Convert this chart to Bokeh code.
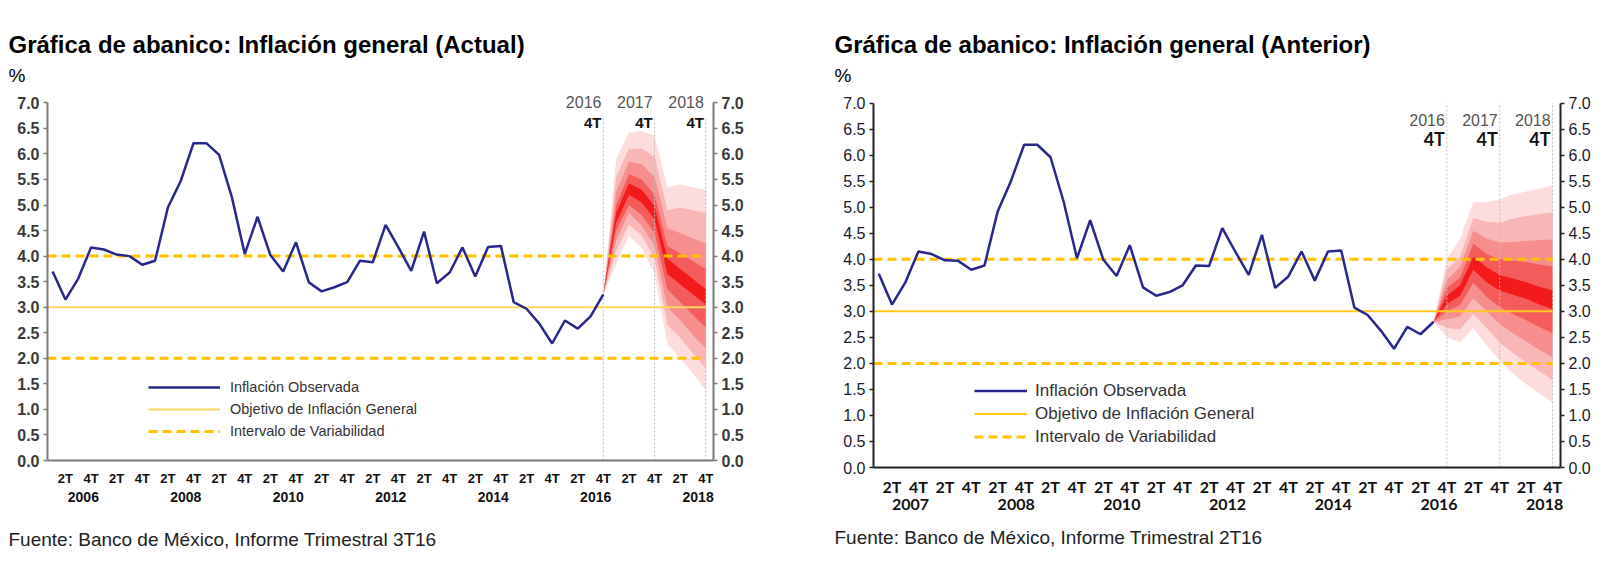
import numpy as np
from bokeh.plotting import figure
from bokeh.layouts import row
from bokeh.models import (LinearAxis, FixedTicker, PrintfTickFormatter, Label,
                          Legend, LegendItem, Range1d, Title)
from bokeh.embed import file_html
from bokeh.resources import INLINE

# ---------------- data ----------------
# quarter index 0 = 1T2006 ... 51 = 4T2018
obs_actual = [3.70, 3.15, 3.56, 4.17, 4.13, 4.03, 4.00, 3.83,
              3.91, 4.95, 5.47, 6.21, 6.21, 5.98, 5.15, 4.04,
              4.77, 4.02, 3.70, 4.27, 3.49, 3.31, 3.39, 3.49,
              3.91, 3.88, 4.61, 4.17, 3.71, 4.48, 3.47, 3.68,
              4.17, 3.60, 4.18, 4.20, 3.10, 2.97, 2.68, 2.29,
              2.74, 2.58, 2.82, 3.25]
obs_anterior = [3.72, 3.13, 3.55, 4.15, 4.10, 3.98, 3.97, 3.80,
                3.88, 4.92, 5.50, 6.20, 6.20, 5.96, 5.10, 4.02,
                4.75, 3.99, 3.68, 4.27, 3.46, 3.30, 3.37, 3.50,
                3.88, 3.87, 4.60, 4.14, 3.70, 4.47, 3.45, 3.67,
                4.15, 3.59, 4.15, 4.17, 3.07, 2.93, 2.63, 2.28,
                2.70, 2.56, 2.80]

target = 3.0
interval_low = 2.0
interval_high = 4.0

# fan chart "Actual" (4T16 .. 4T18)
fanA_q = [43, 44, 45, 46, 47, 48, 49, 50, 51]
fanA_hi90 = [3.25, 5.90, 6.42, 6.45, 6.35, 5.35, 5.40, 5.35, 5.30]
fanA_hi70 = [3.25, 5.55, 6.10, 6.10, 5.95, 4.90, 4.95, 4.90, 4.85]
fanA_hi50 = [3.25, 5.25, 5.85, 5.80, 5.55, 4.55, 4.45, 4.35, 4.25]
fanA_hi30 = [3.25, 5.00, 5.60, 5.50, 5.20, 4.20, 4.05, 3.90, 3.75]
fanA_hi10 = [3.25, 4.85, 5.42, 5.30, 4.98, 3.95, 3.75, 3.55, 3.35]
fanA_lo10 = [3.25, 4.65, 5.20, 5.05, 4.72, 3.65, 3.45, 3.25, 3.05]
fanA_lo30 = [3.25, 4.50, 5.00, 4.80, 4.45, 3.35, 3.10, 2.85, 2.60]
fanA_lo50 = [3.25, 4.30, 4.85, 4.60, 4.20, 3.00, 2.75, 2.45, 2.20]
fanA_lo70 = [3.25, 4.10, 4.62, 4.40, 3.95, 2.65, 2.40, 2.10, 1.80]
fanA_lo90 = [3.25, 3.85, 4.40, 4.15, 3.65, 2.28, 2.00, 1.70, 1.37]

# fan chart "Anterior" (3T16 .. 4T18)
fanB_q = [42, 43, 44, 45, 46, 47, 48, 49, 50, 51]
fanB_hi90 = [2.80, 4.00, 4.40, 5.10, 5.10, 5.15, 5.25, 5.30, 5.36, 5.42]
fanB_hi70 = [2.80, 3.80, 4.05, 4.80, 4.72, 4.70, 4.78, 4.83, 4.87, 4.90]
fanB_hi50 = [2.80, 3.60, 3.85, 4.55, 4.40, 4.32, 4.33, 4.35, 4.37, 4.38]
fanB_hi30 = [2.80, 3.45, 3.65, 4.30, 4.10, 4.00, 3.97, 3.95, 3.90, 3.86]
fanB_hi10 = [2.80, 3.30, 3.50, 4.05, 3.85, 3.70, 3.63, 3.56, 3.47, 3.40]
fanB_lo10 = [2.80, 3.14, 3.30, 3.80, 3.56, 3.40, 3.32, 3.24, 3.13, 3.04]
fanB_lo30 = [2.80, 3.00, 3.12, 3.55, 3.28, 3.08, 2.95, 2.83, 2.70, 2.58]
fanB_lo50 = [2.80, 2.85, 2.90, 3.25, 3.00, 2.75, 2.58, 2.42, 2.26, 2.12]
fanB_lo70 = [2.80, 2.68, 2.65, 2.95, 2.68, 2.40, 2.20, 2.02, 1.85, 1.68]
fanB_lo90 = [2.80, 2.50, 2.40, 2.68, 2.35, 2.05, 1.80, 1.60, 1.42, 1.25]

# tick labels
quarter_ticks = [1, 3, 5, 7, 9, 11, 13, 15, 17, 19, 21, 23, 25, 27, 29, 31,
                 33, 35, 37, 39, 41, 43, 45, 47, 49, 51]
quarter_labels = ["2T", "4T"] * 13
years_actual = ["2006", "2008", "2010", "2012", "2014", "2016", "2018"]
years_anterior = ["2007", "2008", "2010", "2012", "2014", "2016", "2018"]
marker_years = ["2016", "2017", "2018"]
legend_labels = ["Inflación Observada", "Objetivo de Inflación General",
                 "Intervalo de Variabilidad"]

# ---------------- style ----------------
FONT = "Liberation Sans"
BAND_COLORS = ["#FCDCDC", "#F9B6B6", "#F78E8E", "#F45C5C", "#F21A1A"]
YEAR_POS = [2.4, 10.4, 18.4, 26.4, 34.4, 42.4, 50.4]
YTOP = 7.3


def year_to_q4(y):
    return 4 * (int(y) - 2006) + 3


def make_chart(title, source, obs, fan_q, fan_lo, fan_hi, years, cfg):
    p = figure(frame_width=cfg["fw"], frame_height=cfg["fh"],
               min_border_left=cfg["bl"], min_border_right=cfg["br"],
               min_border_top=cfg["bt"], min_border_bottom=cfg["bb"],
               x_range=Range1d(-0.4, 51.6), y_range=Range1d(0, YTOP),
               output_backend="svg", toolbar_location=None, title=None)
    p.outline_line_color = None
    p.grid.visible = False
    p.background_fill_color = "white"
    p.border_fill_color = "white"

    # fan bands, outer to inner
    for lo, hi, col in zip(fan_lo, fan_hi, BAND_COLORS):
        p.varea(x=fan_q, y1=lo, y2=hi, fill_color=col, fill_alpha=1.0)

    # marker verticals
    mx = [year_to_q4(y) for y in marker_years]
    p.segment(x0=mx, y0=[0] * 3, x1=mx, y1=[cfg["vtop"]] * 3,
              line_color="#BDBDBD", line_width=1, line_dash="2 2")

    xs_full = [-0.4, 51]
    r_target = p.line(x=xs_full, y=[target] * 2, line_color=cfg["target_col"],
                      line_width=2)
    r_int = p.line(x=xs_full, y=[interval_high] * 2, line_color="#FFC000",
                   line_width=3, line_dash="9 5")
    p.line(x=xs_full, y=[interval_low] * 2, line_color="#FFC000",
           line_width=3, line_dash="9 5")
    r_obs = p.line(x=list(range(len(obs))), y=obs, line_color="#27278C",
                   line_width=2.5)

    # axes
    yt = FixedTicker(ticks=list(np.arange(0, 7.01, 0.5)))
    p.yaxis[0].ticker = yt
    p.yaxis.formatter = PrintfTickFormatter(format="%.1f")
    ry = LinearAxis(ticker=yt, formatter=PrintfTickFormatter(format="%.1f"))
    p.add_layout(ry, "right")
    for ax in (p.yaxis[0], ry):
        ax.bounds = (0, 7)
        ax.axis_line_color = cfg["axis_col"]
        ax.axis_line_width = 2
        ax.major_tick_line_color = cfg["axis_col"]
        ax.major_tick_line_width = 1.5
        ax.major_tick_out = 4
        ax.major_tick_in = 0
        ax.minor_tick_line_color = None
        ax.major_label_text_font = FONT
        ax.major_label_text_font_size = cfg["ylab_size"]
        ax.major_label_text_font_style = cfg["ylab_style"]
        ax.major_label_text_color = cfg["ylab_col"]
        ax.major_label_standoff = 4

    xa = p.xaxis[0]
    xa.ticker = FixedTicker(ticks=quarter_ticks)
    xa.major_label_overrides = {t: l for t, l in zip(quarter_ticks, quarter_labels)}
    xa.axis_line_color = cfg["axis_col"]
    xa.axis_line_width = 2
    xa.major_tick_line_color = None
    xa.major_tick_out = 0
    xa.major_tick_in = 0
    xa.minor_tick_line_color = None
    xa.major_label_standoff = cfg["xstand"]
    xa.major_label_text_font = cfg["xfont"]
    xa.major_label_text_font_size = cfg["xlab_size"]
    xa.major_label_text_font_style = "bold"
    xa.major_label_text_color = "#111111"

    ya = LinearAxis(ticker=FixedTicker(ticks=YEAR_POS),
                    major_label_overrides={t: l for t, l in zip(YEAR_POS, years)})
    ya.axis_line_color = None
    ya.major_tick_line_color = None
    ya.minor_tick_line_color = None
    ya.major_tick_out = 0
    ya.major_label_standoff = cfg["ystand"]
    ya.major_label_text_font = cfg["xfont"]
    ya.major_label_text_font_size = cfg["year_size"]
    ya.major_label_text_font_style = "bold"
    ya.major_label_text_color = "#111111"
    p.add_layout(ya, "below")

    # marker labels
    for y, x in zip(marker_years, mx):
        p.add_layout(Label(x=x - 0.15, y=cfg["yr_y"], text=y, text_align="right",
                           text_baseline="middle", text_font=FONT,
                           text_font_size="16px", text_color="#555555"))
        p.add_layout(Label(x=x - 0.15, y=cfg["q_y"], text="4T", text_align="right",
                           text_baseline="middle", text_font=cfg["xfont"],
                           text_font_size=cfg["q_size"], text_font_style="bold",
                           text_color="#111111"))

    # legend
    leg = Legend(items=[LegendItem(label=legend_labels[0], renderers=[r_obs]),
                        LegendItem(label=legend_labels[1], renderers=[r_target]),
                        LegendItem(label=legend_labels[2], renderers=[r_int])],
                 location=cfg["leg_loc"], orientation="vertical",
                 border_line_color=None, background_fill_alpha=0,
                 padding=0, margin=0, spacing=2,
                 glyph_width=cfg["gw"], glyph_height=cfg["gh"], label_height=cfg["gh"],
                 label_standoff=cfg["lstand"], label_text_font=FONT,
                 label_text_font_size=cfg["leg_size"], label_text_color="#333333")
    p.add_layout(leg, "center")

    # titles and source
    p.add_layout(Title(text="%", align="left", offset=-39, text_font=FONT,
                       text_font_size="19px", text_font_style="normal",
                       text_color="#000000", standoff=cfg["pct_stand"]), "above")
    p.add_layout(Title(text=title, align="left", offset=-39, text_font=FONT,
                       text_font_size="24px", text_font_style="bold",
                       text_color="#000000", standoff=cfg["title_stand"]), "above")
    p.add_layout(Title(text=source, align="left", offset=-39, text_font=FONT,
                       text_font_size="19px", text_font_style="normal",
                       text_color="#222222", standoff=cfg["src_stand"]), "below")
    return p


cfgA = dict(fw=666, fh=373, bl=47, br=87, bt=87, bb=114, vtop=6.7,
            target_col="#FFD75E", axis_col="#7A7A7A", ylab_size="16px",
            ylab_style="bold", ylab_col="#3A3A3A", xstand=10, ystand=3,
            xfont=FONT, xlab_size="13px", year_size="14px",
            yr_y=7.02, q_y=6.61, q_size="15px",
            leg_loc=(101, 19), gw=72, gh=20, lstand=10, leg_size="14.5px",
            pct_stand=4, title_stand=6, src_stand=44)
cfgB = dict(fw=687, fh=380, bl=73, br=59, bt=85, bb=109, vtop=7.0,
            target_col="#FFC823", axis_col="#222222", ylab_size="16px",
            ylab_style="normal", ylab_col="#1A1A2A", xstand=9, ystand=0,
            xfont="Lato", xlab_size="16px", year_size="16px",
            yr_y=6.67, q_y=6.31, q_size="18px",
            leg_loc=(101, 20), gw=53, gh=21, lstand=8, leg_size="17px",
            pct_stand=4, title_stand=6, src_stand=25)

pA = make_chart("Gráfica de abanico: Inflación general (Actual)",
                "Fuente: Banco de México, Informe Trimestral 3T16",
                obs_actual, fanA_q,
                [fanA_lo90, fanA_lo70, fanA_lo50, fanA_lo30, fanA_lo10],
                [fanA_hi90, fanA_hi70, fanA_hi50, fanA_hi30, fanA_hi10],
                years_actual, cfgA)
pB = make_chart("Gráfica de abanico: Inflación general (Anterior)",
                "Fuente: Banco de México, Informe Trimestral 2T16",
                obs_anterior, fanB_q,
                [fanB_lo90, fanB_lo70, fanB_lo50, fanB_lo30, fanB_lo10],
                [fanB_hi90, fanB_hi70, fanB_hi50, fanB_hi30, fanB_hi10],
                years_anterior, cfgB)

layout = row(pA, pB, spacing=0)
open("out.html", "w").write(file_html(layout, INLINE))
